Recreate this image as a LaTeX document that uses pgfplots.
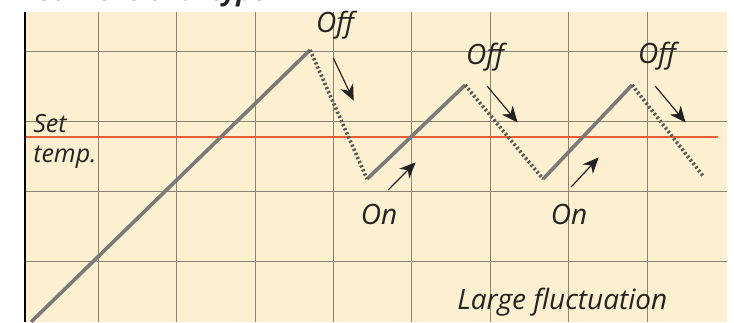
\documentclass[border=0pt]{standalone}
\usepackage{pgfplots}
\pgfplotsset{compat=1.18}
\usetikzlibrary{arrows.meta}
\usepackage{fontspec}
\setmainfont{Open Sans}
\definecolor{paper}{RGB}{253,240,208}
\definecolor{gridc}{RGB}{140,132,115}
\definecolor{setred}{RGB}{236,92,52}
\definecolor{risec}{RGB}{122,122,122}
\definecolor{fallc}{RGB}{88,90,86}
\definecolor{ink}{RGB}{35,35,35}
\tikzset{
  rise/.style={risec, line width=3.6pt, line cap=butt},
  fall/.style={fallc, line width=3.6pt, line cap=butt, dash pattern=on 2.2pt off 2.3pt},
  ann/.style={ink, line width=1.2pt, -{Stealth[length=16pt,width=14pt,inset=5pt]}},
  lbl/.style={ink, font=\itshape\fontsize{28}{32}\selectfont, inner sep=0pt},
}
\begin{document}
\begin{tikzpicture}[x=1pt,y=1pt]
\begin{axis}[
  at={(32,0)}, anchor=south west,
  scale only axis, width=702pt, height=310pt,
  xmin=0.069, xmax=9.023, ymin=0.129, ymax=4.557,
  xtick={1,...,8}, ytick={1,...,4},
  xticklabels={}, yticklabels={},
  major tick length=0pt,
  grid=major, grid style={gridc, line width=0.7pt},
  axis line style={draw=none},
  axis background/.style={fill=paper},
  clip mode=individual,
]
% set temperature
\addplot[setred, line width=1.4pt] coordinates {(0.069,2.771) (8.908,2.771)};
% heater on (rising)
\addplot[rise] coordinates {(0.145,0.129) (3.704,4.014)};
\addplot[rise] coordinates {(4.431,2.171) (5.681,3.514)};
\addplot[rise] coordinates {(6.676,2.171) (7.811,3.514)};
% heater off (falling)
\addplot[fall] coordinates {(3.704,4.014) (4.431,2.171)};
\addplot[fall] coordinates {(5.681,3.514) (6.676,2.171)};
\addplot[fall] coordinates {(7.811,3.514) (8.717,2.214)};

\draw[black, line width=1.3pt] (rel axis cs:0,0) -- (rel axis cs:0,1);

\draw[ann] (axis cs:4.000,3.900) -- (axis cs:4.260,3.290);
\draw[ann] (axis cs:5.962,3.500) -- (axis cs:6.350,2.980);
\draw[ann] (axis cs:8.105,3.500) -- (axis cs:8.493,2.980);
\draw[ann] (axis cs:4.699,2.014) -- (axis cs:5.050,2.410);
\draw[ann] (axis cs:7.033,2.057) -- (axis cs:7.385,2.480);

\node[lbl] at (axis cs:4.023,4.371) {Off};
\node[lbl] at (axis cs:5.936,3.914) {Off};
\node[lbl] at (axis cs:8.130,3.929) {Off};
\node[lbl] at (axis cs:4.584,1.671) {On};
\node[lbl] at (axis cs:7.008,1.671) {On};
\node[lbl, anchor=base west, font=\itshape\fontsize{25}{30}\selectfont] at (axis cs:0.171,2.829) {Set};
\node[lbl, anchor=base west, font=\itshape\fontsize{25}{30}\selectfont] at (axis cs:0.171,2.414) {temp.};
\node[lbl, anchor=base west] at (axis cs:5.580,0.310) {Large fluctuation};
\end{axis}
\node[ink, anchor=base west, inner sep=0pt, font=\bfseries\itshape\fontsize{27}{30}\selectfont] at (35,321.5) {Conventional type};
\pgfresetboundingbox
\useasboundingbox (0,0) rectangle (734,322);
\end{tikzpicture}
\end{document}
